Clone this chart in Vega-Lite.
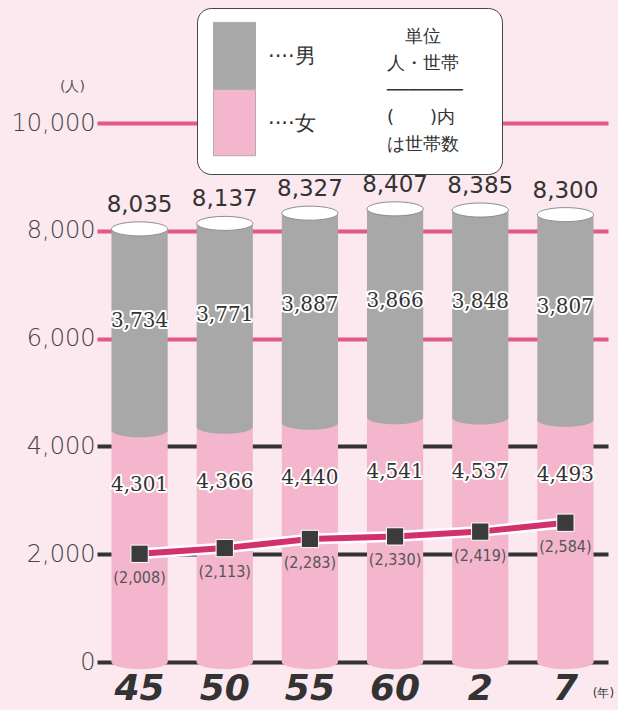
{
  "$schema": "https://vega.github.io/schema/vega-lite/v6.json",
  "width": 511,
  "height": 539,
  "autosize": {"type": "none"},
  "padding": {"left": 97, "top": 123, "right": 10, "bottom": 48},
  "background": "#fce8ef",
  "config": {"view": {"stroke": null}, "font": "DejaVu Sans"},
  "datasets": {
    "pop": [
      {"year": "45", "sex": "男", "count": 3734}, {"year": "45", "sex": "女", "count": 4301},
      {"year": "50", "sex": "男", "count": 3771}, {"year": "50", "sex": "女", "count": 4366},
      {"year": "55", "sex": "男", "count": 3887}, {"year": "55", "sex": "女", "count": 4440},
      {"year": "60", "sex": "男", "count": 3866}, {"year": "60", "sex": "女", "count": 4541},
      {"year": "2", "sex": "男", "count": 3848}, {"year": "2", "sex": "女", "count": 4537},
      {"year": "7", "sex": "男", "count": 3807}, {"year": "7", "sex": "女", "count": 4493}
    ],
    "wide": [
      {"year": "45", "women": 4301, "men": 3734, "total": 8035, "households": 2008},
      {"year": "50", "women": 4366, "men": 3771, "total": 8137, "households": 2113},
      {"year": "55", "women": 4440, "men": 3887, "total": 8327, "households": 2283},
      {"year": "60", "women": 4541, "men": 3866, "total": 8407, "households": 2330},
      {"year": "2", "women": 4537, "men": 3848, "total": 8385, "households": 2419},
      {"year": "7", "women": 4493, "men": 3807, "total": 8300, "households": 2584}
    ]
  },
  "encoding": {
    "x": {
      "field": "year", "type": "ordinal",
      "sort": ["45", "50", "55", "60", "2", "7"],
      "scale": {"paddingInner": 0.34, "paddingOuter": 0.17},
      "axis": {
        "title": "(年)", "labelAngle": 0, "domain": false, "ticks": false, "grid": false,
        "labelFont": "DejaVu Sans", "labelFontSize": 36, "labelFontWeight": "bold", "labelFontStyle": "italic",
        "labelColor": "#333333", "labelPadding": 9,
        "titleX": 506, "titleY": 30, "titleFontSize": 12, "titleFontWeight": "normal",
        "titleBaseline": "middle", "titleColor": "#333333", "titleAlign": "center"
      }
    }
  },
  "layer": [
    {
      "data": {"name": "pop"},
      "mark": {"type": "bar"},
      "encoding": {
        "y": {
          "field": "count", "type": "quantitative", "stack": "zero",
          "scale": {"domain": [0, 10000], "nice": false},
          "axis": {
            "title": "(人)", "values": [0, 2000, 4000, 6000, 8000, 10000], "format": ",d",
            "domain": false, "ticks": false, "grid": true,
            "labelFont": "DejaVu Sans", "labelFontSize": 24, "labelFontWeight": 200, "labelColor": "#444444", "labelPadding": 2,
            "gridWidth": 4,
            "gridColor": {"condition": {"test": "datum.value >= 6000", "value": "#e2578c"}, "value": "#333333"},
            "titleAngle": 0, "titleX": -25, "titleY": -30, "titleFontSize": 14, "titleFontWeight": "normal",
            "titleColor": "#555555", "titleAlign": "center"
          }
        },
        "order": {"field": "sex", "sort": "ascending"},
        "color": {
          "field": "sex", "type": "nominal",
          "scale": {"domain": ["男", "女"], "range": ["#a8a8a8", "#f4b6cc"]},
          "legend": {
            "orient": "none", "legendX": 100, "legendY": -115, "direction": "vertical",
            "fillColor": "white", "strokeColor": "#444444", "cornerRadius": 14, "padding": 16,
            "symbolType": "M-1,-1.1H1V2.06H-1Z", "symbolSize": 1764,
            "symbolStrokeColor": "#a0a0a0", "symbolStrokeWidth": 0.8, "rowPadding": -7,
            "labelExpr": "'····' + datum.label", "labelFontSize": 21, "labelColor": "#333333", "labelOffset": 12,
            "labelBaseline": "top",
            "title": ["\u2800\u2005単位", "人・世帯\u2800\u2800", "───────", "(　　)内", "は世帯数"],
            "titleOrient": "right", "titleAngle": 0, "titleAlign": "left", "titleFontSize": 18,
            "titleFontWeight": "normal", "titleLineHeight": 27, "titlePadding": 71, "titleColor": "#333333"
          }
        }
      }
    },
    {
      "data": {"name": "wide"},
      "mark": {"type": "point", "shape": "M-1,0A1,0.25,0,1,1,1,0A1,0.25,0,1,1,-1,0Z", "size": 3158, "filled": true, "fill": "#f4b6cc", "strokeWidth": 0, "opacity": 1},
      "encoding": {"y": {"datum": 0, "type": "quantitative"}}
    },
    {
      "data": {"name": "wide"},
      "mark": {"type": "point", "shape": "M-1,0A1,0.25,0,1,1,1,0A1,0.25,0,1,1,-1,0Z", "size": 3158, "filled": true, "fill": "#a8a8a8", "strokeWidth": 0, "opacity": 1},
      "encoding": {"y": {"field": "women", "type": "quantitative"}}
    },
    {
      "data": {"name": "wide"},
      "mark": {"type": "point", "shape": "M-1,0A1,0.25,0,1,1,1,0A1,0.25,0,1,1,-1,0Z", "size": 3158, "filled": true, "fill": "#ffffff", "stroke": "#8a8a8a", "strokeWidth": 1, "opacity": 1},
      "encoding": {"y": {"field": "total", "type": "quantitative"}}
    },
    {
      "data": {"name": "wide"},
      "mark": {"type": "line", "color": "#ffffff", "strokeWidth": 11},
      "encoding": {"y": {"field": "households", "type": "quantitative"}}
    },
    {
      "data": {"name": "wide"},
      "mark": {"type": "line", "color": "#d3306e", "strokeWidth": 6},
      "encoding": {"y": {"field": "households", "type": "quantitative"}}
    },
    {
      "data": {"name": "wide"},
      "mark": {"type": "point", "shape": "square", "size": 300, "filled": true, "fill": "#3b3b3b", "stroke": "#ffffff", "strokeWidth": 1, "opacity": 1},
      "encoding": {"y": {"field": "households", "type": "quantitative"}}
    },
    {
      "data": {"name": "wide"},
      "transform": [{"calculate": "'(' + format(datum.households, ',') + ')'", "as": "hlabel"}],
      "mark": {"type": "text", "dy": 24, "fontSize": 16, "font": "DejaVu Sans Condensed, Liberation Sans", "fill": "#555555"},
      "encoding": {"y": {"field": "households", "type": "quantitative"}, "text": {"field": "hlabel"}}
    },
    {
      "data": {"name": "wide"},
      "mark": {"type": "text", "dy": -24, "fontSize": 23, "font": "DejaVu Sans", "fill": "#333333"},
      "encoding": {"y": {"field": "total", "type": "quantitative"}, "text": {"field": "total", "format": ","}}
    },
    {
      "data": {"name": "wide"},
      "mark": {"type": "text", "dy": 92, "fontSize": 20, "font": "DejaVu Serif", "fill": "#ffffff", "stroke": "#ffffff", "strokeWidth": 4, "strokeJoin": "round"},
      "encoding": {"y": {"field": "total", "type": "quantitative"}, "text": {"field": "men", "format": ","}}
    },
    {
      "data": {"name": "wide"},
      "mark": {"type": "text", "dy": 92, "fontSize": 20, "font": "DejaVu Serif", "fill": "#333333"},
      "encoding": {"y": {"field": "total", "type": "quantitative"}, "text": {"field": "men", "format": ","}}
    },
    {
      "data": {"name": "wide"},
      "mark": {"type": "text", "dy": 55, "fontSize": 20, "font": "DejaVu Serif", "fill": "#ffffff", "stroke": "#ffffff", "strokeWidth": 4, "strokeJoin": "round"},
      "encoding": {"y": {"field": "women", "type": "quantitative"}, "text": {"field": "women", "format": ","}}
    },
    {
      "data": {"name": "wide"},
      "mark": {"type": "text", "dy": 55, "fontSize": 20, "font": "DejaVu Serif", "fill": "#333333"},
      "encoding": {"y": {"field": "women", "type": "quantitative"}, "text": {"field": "women", "format": ","}}
    }
  ]
}
